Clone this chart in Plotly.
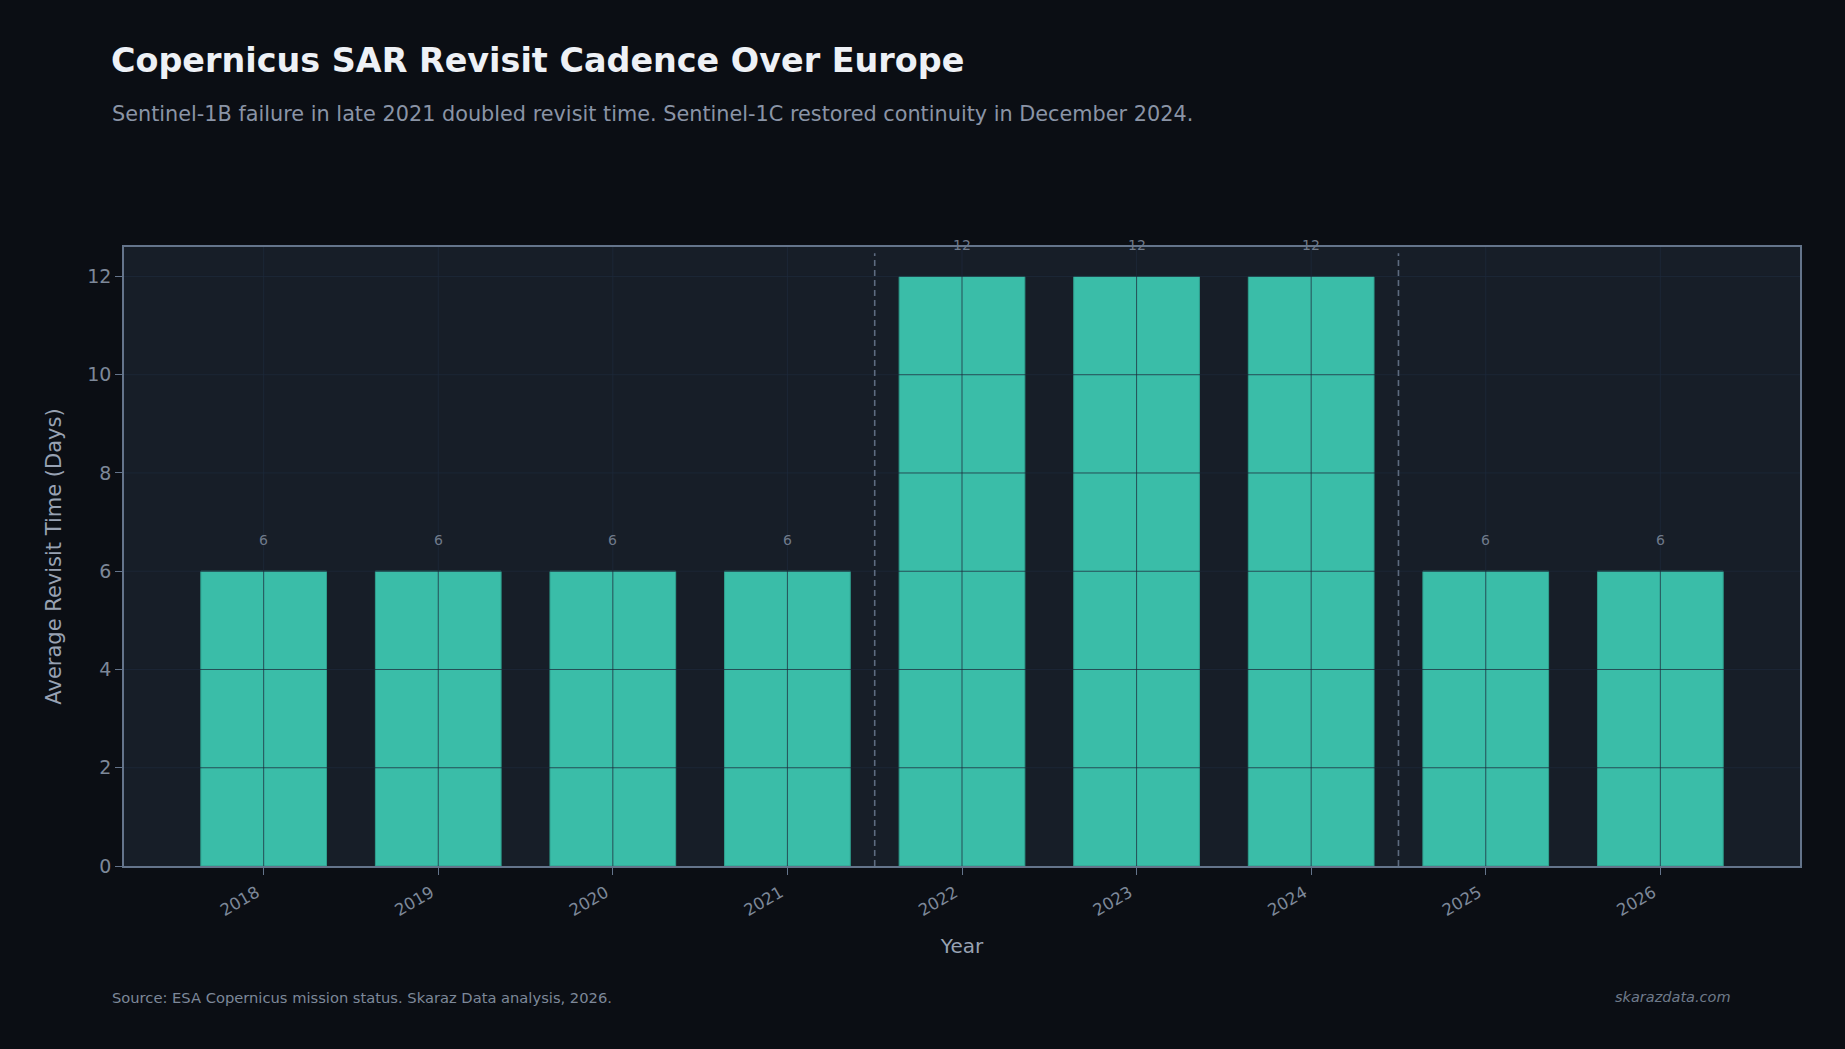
import plotly.graph_objects as go

# ---- data ----
years = ["2018", "2019", "2020", "2021", "2022", "2023", "2024", "2025", "2026"]
revisit_days = [6, 6, 6, 6, 12, 12, 12, 6, 6]
event_after_years = ["2021", "2024"]   # dashed separators drawn after these years
y_ticks = [0, 2, 4, 6, 8, 10, 12]

TITLE = "Copernicus SAR Revisit Cadence Over Europe"
SUBTITLE = "Sentinel-1B failure in late 2021 doubled revisit time. Sentinel-1C restored continuity in December 2024."
SOURCE = "Source: ESA Copernicus mission status. Skaraz Data analysis, 2026."
BRAND = "skarazdata.com"

# ---- style ----
FONT = "DejaVu Sans"
PAGE_BG = "#0b0e14"
PLOT_BG = "#171e28"
BAR = "#3abda8"
AXIS = "#64748b"
TICK_TXT = "#7d8899"
GRID = "rgba(30,41,59,0.75)"

W, H = 1845, 1049
L, R, T, B = 124, 45, 247, 183

fig = go.Figure()
fig.add_trace(go.Bar(
    x=years, y=revisit_days, width=0.72,
    marker=dict(color=BAR, line=dict(color="#2fa08e", width=1)),
    hoverinfo="x+y", showlegend=False,
))

# value labels above bars (category axis positions use serial index)
for i, v in enumerate(revisit_days):
    fig.add_annotation(x=i, y=v, xref="x", yref="y", text=str(v), showarrow=False,
                       yanchor="middle", yshift=31,
                       font=dict(family=FONT, size=14, color="#6f7a8a"))

shapes = []
# grid lines drawn above the bars
for t in y_ticks[1:]:
    shapes.append(dict(type="line", xref="paper", yref="y", x0=0, x1=1, y0=t, y1=t,
                       line=dict(color=GRID, width=1), layer="above"))
for i in range(len(years)):
    shapes.append(dict(type="line", xref="x", yref="paper", x0=i, x1=i, y0=0, y1=1,
                       line=dict(color=GRID, width=1), layer="above"))
# dashed separators
for ev in event_after_years:
    xi = years.index(ev) + 0.5
    shapes.append(dict(type="line", xref="x", yref="paper", x0=xi, x1=xi, y0=0, y1=0.99,
                       line=dict(color="#5d6b80", width=1.6, dash="6px,4px"), layer="above"))
fig.update_layout(shapes=shapes)

pw = W - L - R
ph = H - T - B

fig.update_layout(
    width=W, height=H,
    margin=dict(l=L, r=R, t=T, b=B, autoexpand=False),
    paper_bgcolor=PAGE_BG, plot_bgcolor=PLOT_BG,
    font=dict(family=FONT, color=TICK_TXT),
    title=dict(text="<b>" + TITLE + "</b>", xref="container", yref="container",
               x=111 / W, xanchor="left", y=1 - 60 / H, yanchor="middle",
               font=dict(family=FONT, size=33.4, color="#eef1f6")),
    xaxis=dict(
        type="category", range=[-0.8, len(years) - 0.2],
        showline=True, linecolor=AXIS, linewidth=1.6, mirror=True,
        ticks="outside", ticklen=7, tickcolor=AXIS, tickwidth=1.2,
        tickangle=-30, tickfont=dict(family=FONT, size=16.5, color=TICK_TXT),
        ticklabelstandoff=2, ticklabelshift=-7,
        showgrid=False, zeroline=False,
        title=dict(text="Year", standoff=20, font=dict(family=FONT, size=20, color="#98a2b3")),
    ),
    yaxis=dict(
        range=[0, 12.6], tickvals=y_ticks,
        showline=True, linecolor=AXIS, linewidth=1.6, mirror=True,
        ticks="outside", ticklen=7, tickcolor=AXIS, tickwidth=1.2,
        tickfont=dict(family=FONT, size=19, color=TICK_TXT),
        showgrid=False, zeroline=False,
        title=dict(text="Average Revisit Time (Days)", standoff=20,
                   font=dict(family=FONT, size=21, color="#98a2b3")),
    ),
)

fig.add_annotation(text=SUBTITLE, xref="paper", yref="paper",
                   x=(110 - L) / pw, y=(H - B - 114) / ph, xanchor="left", yanchor="middle",
                   showarrow=False, font=dict(family=FONT, size=20.8, color="#8a94a6"))
fig.add_annotation(text=SOURCE, xref="paper", yref="paper",
                   x=(110 - L) / pw, y=(H - B - 997) / ph, xanchor="left", yanchor="middle",
                   showarrow=False, font=dict(family=FONT, size=14.7, color="#7d8899"))
fig.add_annotation(text="<i>" + BRAND + "</i>", xref="paper", yref="paper",
                   x=(1733 - L) / pw, y=(H - B - 997) / ph, xanchor="right", yanchor="middle",
                   showarrow=False, font=dict(family=FONT, size=14.5, color="#6f7a8a"))

fig.write_html("out.html")
